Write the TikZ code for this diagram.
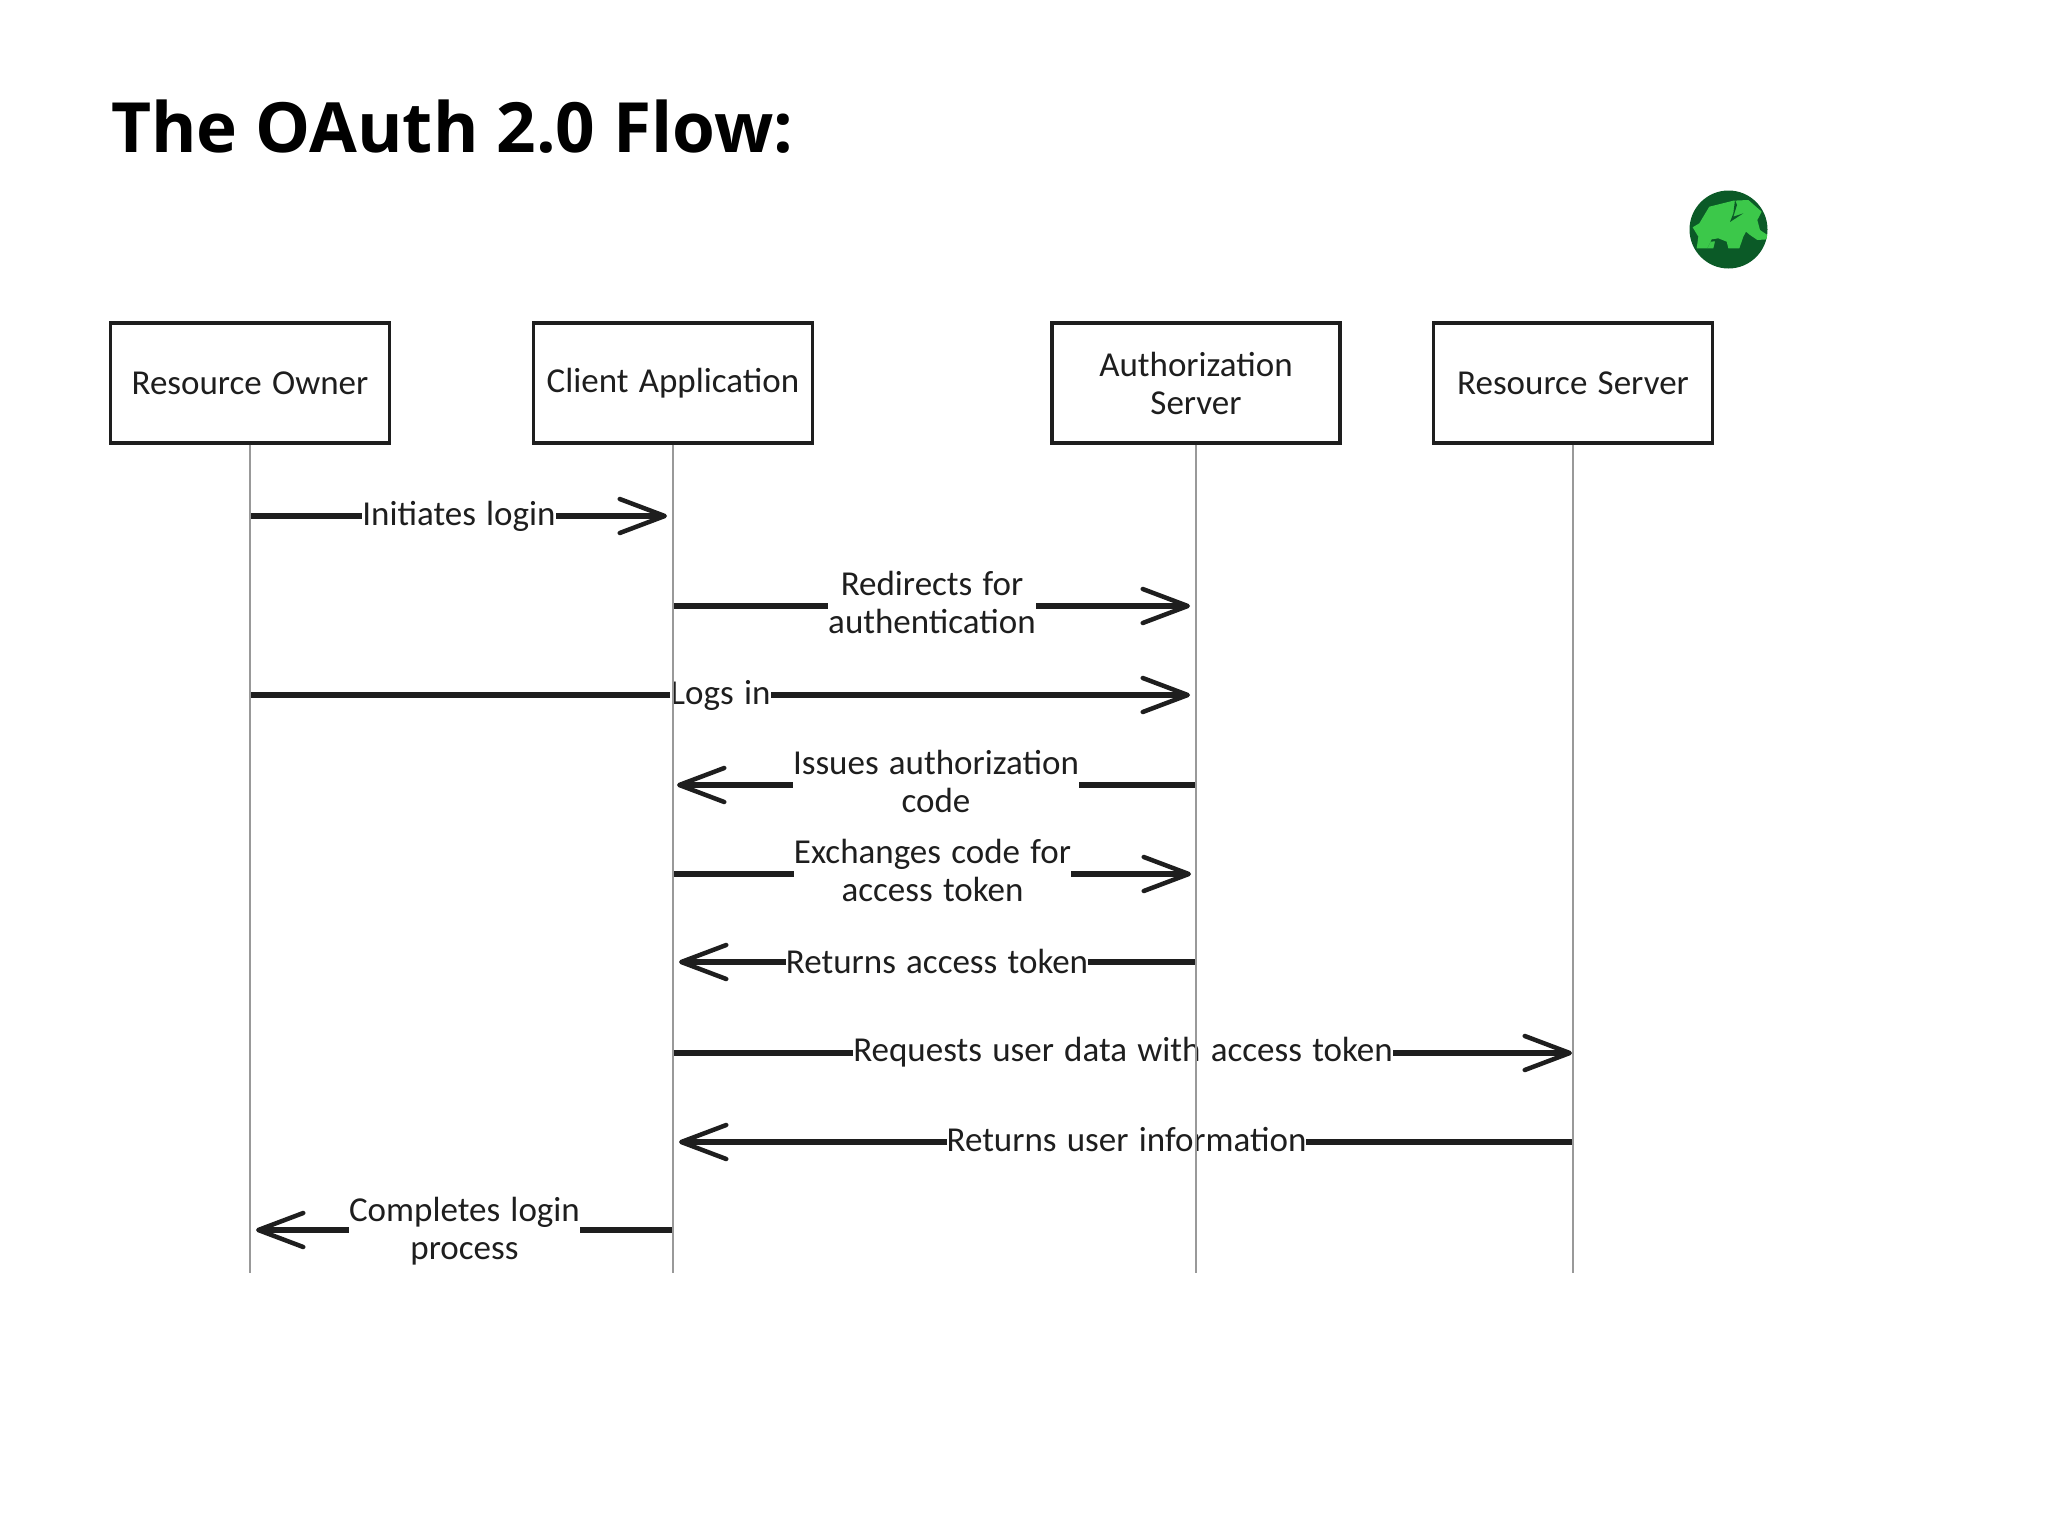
\documentclass[tikz,border=0pt]{standalone}
\usepackage{fontspec}
\usetikzlibrary{arrows.meta}
\setmainfont{Open Sans}
\newfontfamily\handfont[WordSpace=1.3]{Carlito}
\definecolor{leafdark}{HTML}{0B5A27}
\definecolor{leaflight}{HTML}{3CC84A}
\definecolor{inkline}{HTML}{1E1E1E}
\begin{document}
\begin{tikzpicture}[x=1pt, y=-1pt, >={Straight Barb[length=45pt, width=34pt, line width=4.5pt, round]}, node distance=423pt, actor node/.style={rectangle, draw=inkline, line width=3.2pt, minimum height=120pt, align=center, font=\handfont\fontsize{35}{38}\selectfont, text=inkline}, msg/.style={->, draw=inkline, line width=5.5pt}, msg label/.style={fill=white, inner sep=0pt, align=center, font=\handfont\fontsize{35}{38}\selectfont, text=inkline}, lifeline/.style={draw=gray!80, line width=1.5pt}]
	\useasboundingbox (0,0) rectangle (2048,1536);

	\node[anchor=base west, inner sep=0pt, font=\bfseries\fontsize{69.3}{84}\selectfont] (title) at (111,153) {The OAuth 2.0 Flow:};

	\node[actor node, minimum width=279pt] (A) at (250,383) {Resource Owner};
	\node[actor node, minimum width=279pt] (B) [right of=A] {Client Application};
	\node[actor node, minimum width=288pt] (C) [right of=B, node distance=523pt] {Authorization\\Server};
	\node[actor node, minimum width=279pt] (D) [right of=C, node distance=377pt] {Resource Server};

	% logo
	\node[circle, fill=leafdark, inner sep=0pt, minimum size=78pt] (logo) at (1728.5,229.5) {};
	\begin{scope}[shift={(1680,180)}, x=0.3333pt, y=-0.3333pt]
		\clip (146,148) circle (117);
		\fill[leaflight] (38,142) -- (58,130) -- (88,80) -- (160,62) -- (205,60) -- (245,95) -- (232,120) -- (240,150) -- (262,165) -- (262,178) -- (232,180) -- (210,165) -- (198,155) -- (190,170) -- (178,205) -- (145,205) -- (140,185) -- (115,175) -- (95,178) -- (82,205) -- (50,205) -- (55,170) -- cycle;
		\fill[leaflight] (82,205) -- (92,185) -- (105,184) -- (100,205) -- cycle;
		\fill[leafdark] (165,60) -- (160,100) -- (150,126) -- (190,100) -- (160,110) -- (171,75) -- cycle;
	\end{scope}

	% message ends
	\coordinate (m1s) at (251,516);  \coordinate (m1e) at (667,516);
	\coordinate (m2s) at (674,606);  \coordinate (m2e) at (1190,606);
	\coordinate (m3s) at (251,695);  \coordinate (m3e) at (1190,695);
	\coordinate (m4s) at (1195,785); \coordinate (m4e) at (677,785);
	\coordinate (m5s) at (674,874);  \coordinate (m5e) at (1191,874);
	\coordinate (m6s) at (1195,962); \coordinate (m6e) at (679,962);
	\coordinate (m7s) at (674,1053); \coordinate (m7e) at (1572,1053);
	\coordinate (m8s) at (1574,1142); \coordinate (m8e) at (679,1142);
	\coordinate (m9s) at (673,1230); \coordinate (m9e) at (256,1230);

	\path[every node/.style={msg label}]
		(m1s) edge[msg] node (l1) {Initiates login} (m1e)
		(m2s) edge[msg] node[yshift=4pt] (l2) {Redirects for\\authentication} (m2e)
		(m3s) edge[msg] node (l3) {Logs in} (m3e)
		(m4s) edge[msg] node[yshift=4pt] (l4) {Issues authorization\\code} (m4e)
		(m5s) edge[msg] node[yshift=4pt] (l5) {Exchanges code for\\access token} (m5e)
		(m6s) edge[msg] node[yshift=1pt] (l6) {Returns access token} (m6e)
		(m7s) edge[msg] node[yshift=1pt] (l7) {Requests user data with access token} (m7e)
		(m8s) edge[msg] node[yshift=2pt] (l8) {Returns user information} (m8e)
		(m9s) edge[msg] node[yshift=-1pt] (l9) {Completes login\\process} (m9e);

	% lifelines
	\coordinate (endA) at (250,1273);
	\coordinate (endB) at (673,1273);
	\coordinate (endC) at (1196,1273);
	\coordinate (endD) at (1573,1273);
	\draw[lifeline] (A.south) -- (endA);
	\draw[lifeline] (B.south) -- (endB);
	\draw[lifeline] (C.south) -- (endC);
	\draw[lifeline] (D.south) -- (endD);
\end{tikzpicture}
\end{document}
